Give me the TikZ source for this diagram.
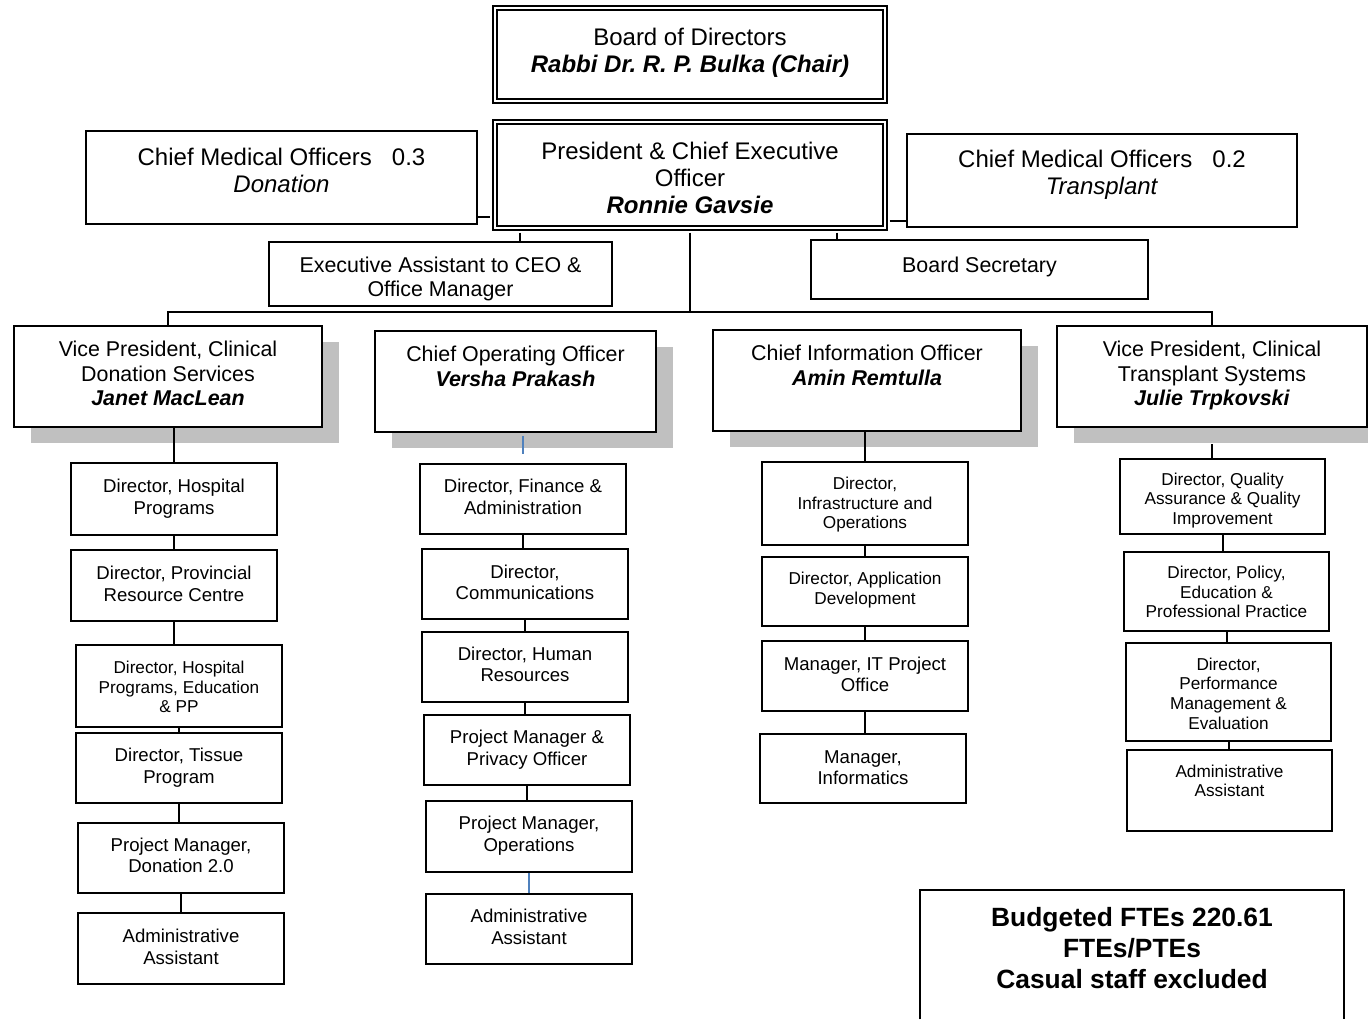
\documentclass[tikz,border=0pt]{standalone}
\usepackage{fontspec}
\setmainfont{Liberation Sans}
\usetikzlibrary{fit,shadows}

\definecolor{shadowgray}{RGB}{192,192,192}
\definecolor{linkblue}{RGB}{79,129,189}

\tikzset{
  box/.style={draw, line width=1pt, fill=white, inner sep=0pt},
  headbox/.style={box, double, line width=1.2pt, double distance=1pt},
  shadowbox/.style={box, drop shadow={shadow xshift=8.5pt, shadow yshift=-8pt, fill=shadowgray, opacity=1}},
  big/.style={align=center, inner sep=0pt, font=\fontsize{12}{13.6}\selectfont},
  mid/.style={align=center, inner sep=0pt, font=\fontsize{10.7}{12.3}\selectfont},
  norm/.style={align=center, inner sep=0pt, font=\fontsize{9.3}{10.8}\selectfont},
  small/.style={align=center, inner sep=0pt, font=\fontsize{8.6}{9.8}\selectfont},
  fte/.style={align=center, inner sep=0pt, font=\bfseries\fontsize{13.2}{15.5}\selectfont},
  link/.style={line width=1pt},
  bluelink/.style={line width=0.8pt, color=linkblue}
}

\begin{document}
\begin{tikzpicture}[x=0.5pt, y=-0.5pt]
\useasboundingbox (0,0) rectangle (1368,1019);

%board and president:
\node[headbox, fit={(495,8) (885,101)}, label={[big, yshift=1pt]center:{Board of Directors\\\textbf{\textit{Rabbi Dr.\ R. P. Bulka (Chair)}}}}] (board) {};
\node[headbox, fit={(495,122) (885,228)}, label={[big, yshift=-1.5pt]center:{President \& Chief Executive\\Officer\\\textbf{\textit{Ronnie Gavsie}}}}] (ceo) {};

%medical officers and office:
\node[box, fit={(86,131) (477,224)}, label={[big, yshift=3.5pt]center:{Chief Medical Officers\hspace{10pt}0.3\\\textit{Donation}}}] (cmod) {};
\node[box, fit={(907,134) (1297,227)}, label={[big, yshift=2.75pt]center:{Chief Medical Officers\hspace{10pt}0.2\\\textit{Transplant}}}] (cmot) {};
\node[box, fit={(269,242) (612,306)}, label={[mid, yshift=-2.5pt]center:{Executive Assistant to CEO \&\\Office Manager}}] (ea) {};
\node[box, fit={(811,240) (1148,299)}, label={[mid, yshift=1.25pt]center:{Board Secretary}}] (bs) {};

%vice presidents and chiefs:
\node[shadowbox, fit={(14,326) (322,427)}, label={[mid, yshift=1.5pt]center:{Vice President, Clinical\\Donation Services\\\textbf{\textit{Janet MacLean}}}}] (vp1) {};
\node[shadowbox, fit={(375,331) (656,432)}, label={[mid, yshift=7.5pt]center:{Chief Operating Officer\\\textbf{\textit{Versha Prakash}}}}] (coo) {};
\node[shadowbox, fit={(713,330) (1021,431)}, label={[mid, yshift=7.5pt]center:{Chief Information Officer\\\textbf{\textit{Amin Remtulla}}}}] (cio) {};
\node[shadowbox, fit={(1057,326) (1367,427)}, label={[mid, yshift=0.5pt]center:{Vice President, Clinical\\Transplant Systems\\\textbf{\textit{Julie Trpkovski}}}}] (vp4) {};

%donation column:
\node[box, fit={(71,463) (277,535)}, label={[norm, yshift=0.25pt]center:{Director, Hospital\\Programs}}] (c1a) {};
\node[box, fit={(71,550) (277,621)}, label={[norm, yshift=0.75pt]center:{Director, Provincial\\Resource Centre}}] (c1b) {};
\node[box, fit={(76,645) (282,727)}, label={[small, yshift=-0.5pt]center:{Director, Hospital\\Programs, Education\\\& PP}}] (c1c) {};
\node[box, fit={(76,733) (282,803)}, label={[norm, yshift=0.25pt]center:{Director, Tissue\\Program}}] (c1d) {};
\node[box, fit={(78,823) (284,893)}, label={[norm, yshift=1.25pt]center:{Project Manager,\\Donation 2.0}}] (c1e) {};
\node[box, fit={(78,913) (284,984)}, label={[norm, yshift=0.75pt]center:{Administrative\\Assistant}}] (c1f) {};

%operations column:
\node[box, fit={(420,464) (626,534)}, label={[norm, yshift=1pt]center:{Director, Finance \&\\Administration}}] (c2a) {};
\node[box, fit={(422,549) (628,619)}, label={[norm, yshift=0.75pt]center:{Director,\\Communications}}] (c2b) {};
\node[box, fit={(422,632) (628,702)}, label={[norm, yshift=1.25pt]center:{Director, Human\\Resources}}] (c2c) {};
\node[box, fit={(424,715) (630,785)}, label={[norm, yshift=0.25pt]center:{Project Manager \&\\Privacy Officer}}] (c2d) {};
\node[box, fit={(426,801) (632,872)}, label={[norm, yshift=0.5pt]center:{Project Manager,\\Operations}}] (c2e) {};
\node[box, fit={(426,894) (632,964)}, label={[norm, yshift=1pt]center:{Administrative\\Assistant}}] (c2f) {};

%information column:
\node[box, fit={(762,462) (968,545)}, label={[small, yshift=-0.6pt]center:{Director,\\Infrastructure and\\Operations}}] (c3a) {};
\node[box, fit={(762,557) (968,626)}, label={[small, yshift=0.75pt]center:{Director, Application\\Development}}] (c3b) {};
\node[box, fit={(762,641) (968,711)}, label={[norm, yshift=0.75pt]center:{Manager, IT Project\\Office}}] (c3c) {};
\node[box, fit={(760,734) (966,803)}, label={[norm, yshift=0.5pt]center:{Manager,\\Informatics}}] (c3d) {};

%transplant column:
\node[box, fit={(1120,459) (1325,534)}, label={[small, yshift=-2pt]center:{Director, Quality\\Assurance \& Quality\\Improvement}}] (c4a) {};
\node[box, fit={(1124,552) (1329,631)}, label={[small, yshift=-0.25pt]center:{Director, Policy,\\Education \&\\Professional Practice}}] (c4b) {};
\node[box, fit={(1126,643) (1331,741)}, label={[small, yshift=-0.75pt]center:{Director,\\Performance\\Management \&\\Evaluation}}] (c4c) {};
\node[box, fit={(1127,750) (1332,831)}, label={[small, yshift=4.75pt]center:{Administrative\\Assistant}}] (c4d) {};

%budget note:
\node[fit={(920,890) (1344,1019)}, inner sep=0pt, label={[fte, yshift=3.4pt]center:{Budgeted FTEs 220.61\\FTEs/PTEs\\Casual staff excluded}}] (budget) {};
\draw[link] (budget.south west) |- (budget.north) -| (budget.south east);

%links from the president:
\draw[link, shorten >=1.7pt] (cmod.east |- 0,217) -- (ceo.west |- 0,217);
\draw[link, shorten <=1.7pt] (ceo.east |- 0,221) -- (cmot.west |- 0,221);
\draw[link, shorten <=1.7pt] (ceo.south -| 520,0) -- (ea.north -| 520,0);
\draw[link, shorten <=1.7pt] (ceo.south -| 837,0) -- (bs.north -| 837,0);
\draw[link, shorten <=1.7pt] (ceo.south) -- (ceo.south |- 0,312) coordinate (bus);
\draw[link] (vp1.north) |- (bus) -| (vp4.north);

%links down to the columns:
\draw[link] (c1a.north |- vp1.south) -- (c1a.north);
\draw[bluelink, shorten <=1.5pt, shorten >=4.5pt] (c2a.north |- coo.south) -- (c2a.north);
\draw[link] (c3a.north |- cio.south) -- (c3a.north);
\draw[link, shorten <=8pt] (vp4.south) -- (vp4.south |- c4a.north);

%links inside the columns:
\foreach \a/\b in {c1a/c1b, c1b/c1c, c1c/c1d, c1d/c1e, c1e/c1f, c2a/c2b, c2b/c2c, c2c/c2d, c2d/c2e, c3a/c3b, c3b/c3c, c3c/c3d, c4a/c4b, c4b/c4c, c4c/c4d} {
	\draw[link] (\a.south) -- (\a.south |- \b.north);
}
\draw[bluelink] (c2e.south) -- (c2e.south |- c2f.north);
\end{tikzpicture}
\end{document}
